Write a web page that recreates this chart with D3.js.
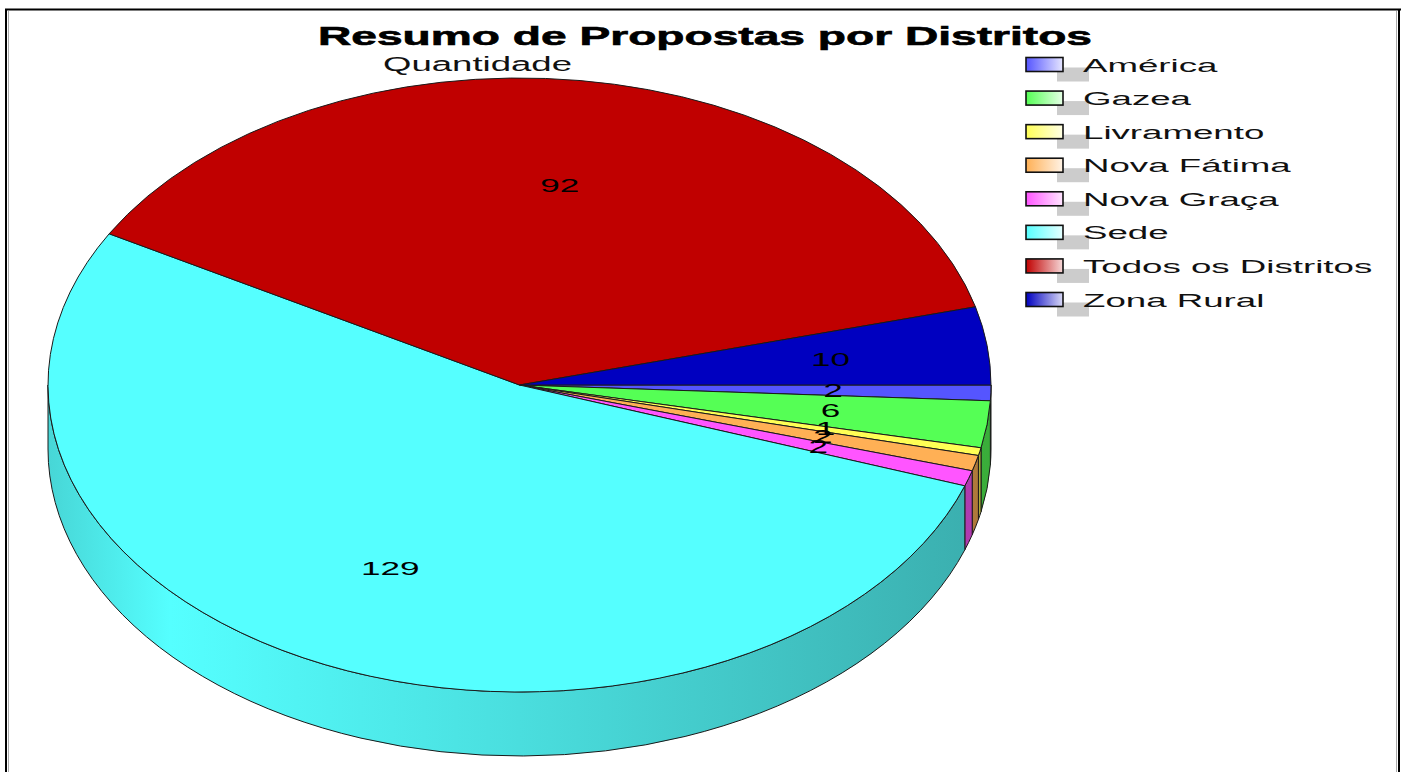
<!DOCTYPE html>
<html>
<head>
<meta charset="utf-8">
<script src="https://cdn.jsdelivr.net/npm/d3@7"></script>
<style>
body { margin: 0; background: #fff; }
text { font-family: "Liberation Sans", Arial, sans-serif; }
</style>
</head>
<body>
<div id="chart"></div>
<script>
var districts = ["América", "Gazea", "Livramento", "Nova Fátima", "Nova Graça", "Sede", "Todos os Distritos", "Zona Rural"];
var counts = [2, 6, 1, 2, 2, 129, 92, 10];
var sliceColors = ["#5555ff", "#55ff55", "#ffff55", "#ffb055", "#ff55ff", "#55ffff", "#c00000", "#0000c0"];
var chartTitle = "Resumo de Propostas por Distritos";
var seriesName = "Quantidade";

var width = 1406, height = 772;
// ellipse of the pie top face, plus its thickness
var cx = 519.5, cy = 385, rx = 471.5, ry = 307, depth = 64;

var svg = d3.select("#chart").append("svg")
    .attr("width", width)
    .attr("height", height);
var defs = svg.append("defs");

var color = d3.scaleOrdinal().domain(districts).range(sliceColors);

//frame around the picture
svg.append("line").attr("x1", 5).attr("x2", 1401).attr("y1", 9.5).attr("y2", 9.5).style("stroke", "#000").style("stroke-width", 2);
svg.append("line").attr("x1", 6).attr("x2", 6).attr("y1", 9).attr("y2", height).style("stroke", "#000").style("stroke-width", 2);
svg.append("line").attr("x1", 8.5).attr("x2", 8.5).attr("y1", 11).attr("y2", height).style("stroke", "#aaa").style("stroke-width", 1);
svg.append("line").attr("x1", 1399).attr("x2", 1399).attr("y1", 9).attr("y2", height).style("stroke", "#000").style("stroke-width", 2);
svg.append("line").attr("x1", 1396.5).attr("x2", 1396.5).attr("y1", 11).attr("y2", height).style("stroke", "#aaa").style("stroke-width", 1);

//title and series name
svg.append("text")
    .attr("x", 318).attr("y", 45)
    .attr("textLength", 774).attr("lengthAdjust", "spacingAndGlyphs")
    .style("font-size", "26px").style("font-weight", "bold")
    .style("stroke", "#000").style("stroke-width", 0.6)
    .text(chartTitle);

svg.append("text")
    .attr("x", 383).attr("y", 71)
    .attr("textLength", 189).attr("lengthAdjust", "spacingAndGlyphs")
    .style("font-size", "20px").style("fill", "#111")
    .text(seriesName);

var pie = d3.pie()
    .sort(null)
    .value(function(d) { return d.value; })
    .startAngle(Math.PI / 2)
    .endAngle(Math.PI / 2 + 2 * Math.PI);

var data = districts.map(function(name, i) { return {name: name, value: counts[i]}; });
var arcs = pie(data);

//d3 angle (clockwise from 12 o'clock) -> screen angle from 3 o'clock
function theta(a) { return a - Math.PI / 2; }
function pt(t, dy) { return [cx + rx * Math.cos(t), cy + ry * Math.sin(t) + (dy || 0)]; }

function shade(c, k) {
    var r = d3.rgb(c);
    return d3.rgb(r.r * k, r.g * k, r.b * k).formatHex();
}

//side wall, only the front half (0..PI) can be seen
var walls = svg.append("g");
arcs.forEach(function(d, i) {
    var t0 = Math.max(theta(d.startAngle), 0);
    var t1 = Math.min(theta(d.endAngle), Math.PI);
    if (t1 <= t0) return;

    var c = color(d.data.name);
    var g = defs.append("linearGradient")
        .attr("id", "wall" + i)
        .attr("gradientUnits", "userSpaceOnUse")
        .attr("x1", cx - rx).attr("x2", cx + rx)
        .attr("y1", 0).attr("y2", 0);
    [[0, 0.84], [0.13, 1], [0.5, 0.87], [1, 0.68]].forEach(function(s) {
        g.append("stop").attr("offset", s[0]).attr("stop-color", shade(c, s[1]));
    });

    var a = pt(t0), b = pt(t1), b2 = pt(t1, depth), a2 = pt(t0, depth);
    var p = "M" + a + "A" + rx + "," + ry + " 0 0 1 " + b +
            "L" + b2 + "A" + rx + "," + ry + " 0 0 0 " + a2 + "Z";
    walls.append("path")
        .attr("d", p)
        .style("fill", "url(#wall" + i + ")")
        .style("stroke", "#1a1a1a")
        .style("stroke-width", 1);
});

//top face
var face = svg.append("g");
face.selectAll(".slice")
    .data(arcs)
    .enter()
    .append("path")
    .attr("class", "slice")
    .attr("d", function(d) {
        var t0 = theta(d.startAngle), t1 = theta(d.endAngle);
        var large = (t1 - t0) > Math.PI ? 1 : 0;
        return "M" + cx + "," + cy + "L" + pt(t0) +
               "A" + rx + "," + ry + " 0 " + large + " 1 " + pt(t1) + "Z";
    })
    .style("fill", function(d) { return color(d.data.name); })
    .style("stroke", "#1a1a1a")
    .style("stroke-width", 1);

//value labels (the small ones overlap, as in the original)
face.selectAll(".lbl")
    .data(arcs)
    .enter()
    .append("text")
    .attr("class", "lbl")
    .attr("transform", function(d) {
        var t = theta((d.startAngle + d.endAngle) / 2);
        var x = cx + 0.665 * rx * Math.cos(t);
        var y = cy + 0.655 * ry * Math.sin(t);
        return "translate(" + x + "," + y + ") scale(1.95,1)";
    })
    .attr("dy", "0.36em")
    .attr("text-anchor", "middle")
    .style("font-size", "18px")
    .style("fill", "#000")
    .text(function(d) { return d.data.value; });

//legend
var legend = svg.append("g");
var rowY = d3.scalePoint().domain(districts).range([64.5, 299.5]);

districts.forEach(function(name, i) {
    var c = color(name);
    var lg = defs.append("linearGradient").attr("id", "leg" + i);
    lg.append("stop").attr("offset", 0).attr("stop-color", c);
    lg.append("stop").attr("offset", 1).attr("stop-color", d3.interpolateRgb(c, "#fff")(0.85));

    var y = rowY(name);
    legend.append("rect")
        .attr("x", 1057).attr("y", y + 3)
        .attr("width", 32).attr("height", 14)
        .style("fill", "#cccccc");
    legend.append("rect")
        .attr("x", 1026).attr("y", y - 7)
        .attr("width", 37).attr("height", 14)
        .style("fill", "url(#leg" + i + ")")
        .style("stroke", "#111")
        .style("stroke-width", 1.6);
    legend.append("text")
        .attr("transform", "translate(1083," + (y + 7) + ") scale(1.93,1)")
        .style("font-size", "19px")
        .style("fill", "#111")
        .text(name);
});
</script>
</body>
</html>
